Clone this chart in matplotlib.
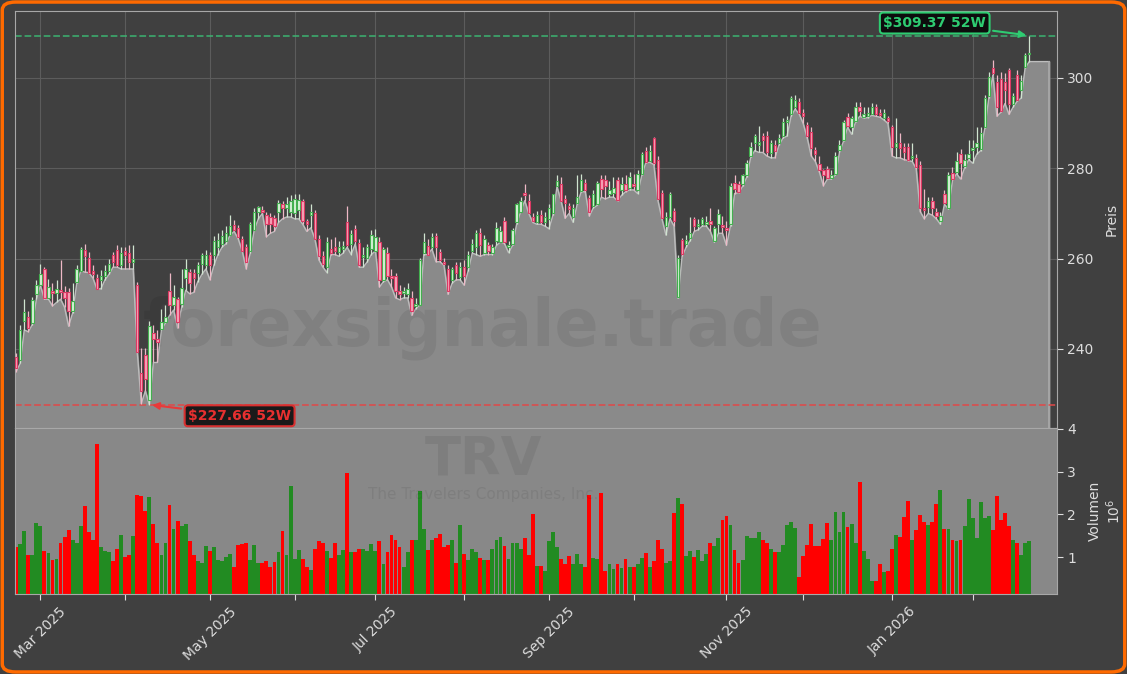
import numpy as np
import pandas as pd
import matplotlib
matplotlib.use('Agg')
import matplotlib.pyplot as plt
from matplotlib.patches import FancyBboxPatch

# TRV daily candles, 21 Feb 2025 .. 23 Feb 2026
start_date = '2025-02-21'
market_holidays = ['2025-04-18', '2025-05-26', '2025-06-19', '2025-07-04', '2025-09-01',
                   '2025-11-27', '2025-12-25', '2026-01-01', '2026-01-19', '2026-02-16']

open_ = [238.2, 237.5, 246.2, 247.0, 245.8, 252.1, 254.1, 257.7, 251.3, 252.9,
         252.3, 253.0, 252.5, 252.5, 248.5, 254.9, 257.3, 262.0, 260.1, 257.3,
         255.7, 255.3, 256.1, 257.3, 260.9, 262.0, 258.5, 261.7, 261.2, 259.3,
         254.1, 234.6, 238.6, 228.6, 243.5, 242.2, 244.4, 246.0, 252.9, 249.7,
         251.0, 250.0, 255.7, 257.0, 256.9, 256.9, 258.7, 258.5, 260.9, 260.9,
         262.5, 263.3, 264.0, 265.2, 267.4, 266.8, 264.4, 262.5, 261.7, 266.4,
         270.4, 270.8, 269.6, 269.2, 269.0, 270.4, 272.0, 271.2, 270.4, 270.0,
         270.8, 272.8, 268.4, 269.6, 270.0, 264.4, 260.5, 258.1, 262.2, 262.5,
         261.5, 262.1, 268.0, 263.3, 266.6, 263.5, 260.3, 260.1, 262.1, 261.7,
         263.6, 255.3, 261.3, 256.1, 256.1, 252.9, 252.3, 252.1, 251.3, 249.5,
         249.7, 261.3, 262.7, 262.5, 265.0, 261.5, 259.3, 257.8, 255.3, 258.5,
         255.9, 258.1, 258.1, 261.7, 262.5, 265.6, 261.3, 262.9, 261.3, 264.0,
         263.7, 268.4, 262.5, 263.3, 268.0, 270.4, 274.6, 272.8, 269.2, 268.2,
         269.6, 268.0, 268.8, 270.0, 276.1, 276.6, 273.2, 271.6, 269.2, 272.2,
         275.0, 276.8, 273.4, 271.6, 272.0, 277.6, 277.4, 274.4, 274.6, 277.4,
         275.2, 276.6, 275.6, 276.4, 275.2, 278.8, 283.8, 281.6, 286.7, 281.8,
         274.5, 267.2, 269.2, 270.6, 251.4, 264.2, 263.2, 264.6, 268.8, 267.2,
         267.6, 267.6, 268.4, 264.0, 267.6, 267.4, 266.8, 267.6, 276.8, 276.4,
         276.4, 278.4, 282.7, 285.5, 285.1, 287.1, 287.1, 283.3, 285.1, 285.5,
         287.1, 290.3, 292.0, 293.5, 294.7, 292.3, 289.5, 288.0, 284.0, 280.9,
         279.5, 279.9, 277.8, 278.8, 284.1, 286.3, 291.3, 289.1, 290.4, 293.5,
         291.3, 291.5, 291.9, 293.5, 292.3, 291.1, 291.1, 289.1, 284.7, 285.5,
         284.7, 284.7, 282.3, 282.3, 280.7, 271.2, 271.4, 272.8, 270.2, 268.4,
         274.2, 271.2, 278.9, 279.2, 283.1, 280.6, 282.3, 284.1, 284.7, 284.3,
         289.1, 295.9, 302.2, 299.0, 299.8, 299.0, 301.8, 294.3, 300.6, 297.4,
         302.5, 305.2]
high = [239.0, 245.4, 251.0, 248.5, 251.5, 255.3, 258.9, 258.2, 255.5, 254.5,
        255.3, 259.7, 254.0, 253.5, 254.5, 258.5, 262.5, 263.3, 261.5, 258.5,
        256.5, 257.5, 258.5, 260.0, 261.5, 262.9, 262.5, 262.5, 262.9, 262.9,
        254.9, 240.2, 240.2, 246.2, 245.4, 244.2, 248.9, 249.7, 256.9, 254.1,
        251.5, 257.7, 260.0, 257.7, 257.7, 259.3, 261.2, 262.0, 261.5, 265.0,
        265.6, 266.4, 267.2, 269.6, 268.5, 267.5, 265.0, 263.3, 268.2, 271.2,
        271.6, 271.6, 270.4, 270.0, 269.6, 273.0, 272.8, 273.6, 274.0, 274.4,
        274.4, 273.2, 268.8, 272.0, 270.8, 265.2, 261.7, 264.8, 264.4, 264.8,
        264.0, 264.0, 271.6, 266.4, 267.5, 264.4, 262.5, 263.3, 266.4, 266.6,
        264.8, 262.5, 262.5, 257.7, 256.9, 254.1, 253.7, 254.5, 252.9, 251.3,
        260.1, 265.6, 264.4, 265.6, 265.6, 262.1, 260.1, 258.5, 258.1, 259.3,
        259.3, 259.7, 261.7, 264.4, 266.4, 266.8, 265.2, 263.6, 263.3, 268.0,
        267.2, 269.2, 264.0, 266.8, 272.4, 273.6, 276.6, 274.4, 270.0, 270.6,
        270.8, 270.4, 272.0, 274.4, 278.4, 278.0, 274.0, 272.4, 272.0, 278.4,
        278.8, 277.6, 274.0, 275.2, 277.2, 278.4, 278.4, 277.2, 278.0, 278.0,
        278.0, 278.6, 279.2, 278.8, 279.5, 283.6, 284.8, 285.2, 286.9, 282.7,
        275.2, 270.4, 274.8, 271.2, 260.9, 264.6, 265.2, 269.2, 269.2, 268.8,
        269.2, 269.4, 271.2, 267.2, 271.0, 269.4, 268.4, 276.8, 278.4, 277.2,
        278.8, 281.8, 285.7, 287.5, 289.3, 287.9, 288.3, 286.3, 286.3, 287.5,
        291.1, 291.5, 295.9, 296.3, 295.5, 293.1, 290.3, 289.1, 284.7, 282.7,
        279.9, 280.6, 279.5, 283.5, 286.3, 290.7, 292.3, 291.5, 294.7, 294.7,
        293.5, 293.5, 294.4, 294.3, 293.1, 293.1, 291.5, 289.5, 291.1, 287.9,
        285.5, 285.5, 285.5, 283.1, 281.5, 275.5, 273.6, 273.6, 271.2, 270.4,
        275.2, 279.2, 280.3, 283.5, 284.3, 283.1, 286.3, 286.3, 289.1, 289.1,
        296.3, 301.4, 303.9, 300.6, 301.4, 301.0, 302.2, 296.7, 301.8, 300.6,
        305.4, 309.37]
low = [235.0, 236.8, 244.2, 243.8, 245.4, 251.0, 254.0, 251.0, 251.0, 249.5,
       250.3, 251.0, 249.2, 245.0, 248.0, 254.5, 257.3, 257.0, 256.9, 255.7,
       253.3, 253.3, 255.3, 256.5, 258.1, 258.1, 257.7, 257.7, 257.7, 257.7,
       239.4, 227.9, 230.7, 227.66, 237.0, 237.0, 244.2, 245.8, 247.4, 248.6,
       244.6, 249.2, 253.0, 252.2, 252.5, 254.9, 256.5, 257.7, 255.3, 258.5,
       260.9, 262.5, 263.3, 265.2, 266.0, 264.4, 261.7, 257.7, 261.2, 266.4,
       268.8, 270.0, 264.8, 265.6, 266.0, 268.0, 268.8, 269.2, 269.2, 268.8,
       268.8, 267.6, 266.0, 266.8, 264.4, 259.7, 258.1, 256.9, 260.9, 260.9,
       260.5, 261.2, 262.5, 260.9, 263.2, 258.1, 258.1, 259.3, 260.9, 261.7,
       253.7, 254.9, 255.3, 253.7, 251.3, 250.9, 251.3, 251.3, 247.4, 248.9,
       249.7, 260.9, 260.9, 262.1, 259.3, 259.3, 258.5, 252.1, 254.5, 255.3,
       255.3, 254.1, 257.3, 261.2, 260.9, 260.5, 260.9, 260.9, 260.9, 262.9,
       263.7, 263.3, 261.3, 262.9, 267.6, 270.4, 272.8, 270.0, 268.0, 267.6,
       267.6, 267.2, 266.6, 269.6, 275.9, 272.8, 268.9, 270.0, 268.0, 272.0,
       274.8, 274.8, 269.4, 271.2, 271.8, 273.6, 273.2, 273.6, 273.6, 272.8,
       274.0, 274.8, 275.2, 275.2, 274.4, 278.4, 281.2, 281.3, 280.8, 272.9,
       268.8, 265.2, 268.8, 267.2, 251.2, 260.5, 262.5, 264.0, 266.0, 266.4,
       267.2, 267.2, 266.0, 263.6, 265.6, 265.6, 262.9, 267.3, 274.4, 274.6,
       276.0, 278.0, 282.4, 283.9, 283.5, 283.5, 282.7, 282.3, 282.3, 285.1,
       286.7, 287.1, 291.5, 293.1, 292.0, 289.9, 286.7, 282.7, 281.5, 279.2,
       276.1, 277.6, 277.6, 278.5, 283.5, 286.0, 289.1, 287.5, 290.3, 291.5,
       291.1, 291.2, 291.7, 291.5, 291.3, 290.7, 289.9, 282.7, 282.3, 282.3,
       281.9, 281.7, 281.5, 279.9, 270.4, 268.8, 270.0, 269.6, 268.8, 267.6,
       272.0, 271.0, 277.3, 278.8, 277.6, 280.1, 281.9, 281.1, 283.1, 283.9,
       288.8, 295.6, 300.6, 291.5, 292.4, 294.3, 291.9, 293.5, 294.8, 295.5,
       302.2, 303.6]
close = [235.8, 244.2, 248.2, 244.6, 250.9, 254.1, 256.5, 251.3, 253.7, 252.3,
         253.3, 252.5, 251.2, 248.5, 250.5, 257.7, 262.1, 260.5, 256.9, 256.5,
         253.3, 256.1, 257.3, 258.9, 259.3, 258.5, 261.2, 260.9, 259.3, 259.9,
         239.4, 230.7, 233.4, 245.0, 242.2, 241.5, 246.0, 247.0, 249.7, 251.5,
         246.0, 253.5, 257.7, 254.5, 255.7, 258.5, 260.7, 260.9, 258.5, 264.0,
         264.2, 265.0, 265.6, 267.2, 266.4, 264.8, 261.7, 259.3, 267.6, 270.4,
         271.4, 270.4, 267.6, 267.6, 267.2, 272.4, 271.2, 272.0, 272.8, 273.2,
         273.0, 268.4, 267.6, 270.4, 264.4, 260.5, 258.9, 263.7, 261.2, 261.7,
         262.5, 262.7, 262.9, 265.4, 263.8, 258.5, 260.9, 262.5, 265.2, 264.8,
         255.3, 262.1, 256.1, 255.7, 252.9, 252.1, 252.9, 253.3, 248.5, 250.0,
         259.7, 263.7, 260.9, 264.7, 262.6, 259.7, 258.9, 252.9, 257.7, 256.9,
         258.1, 256.1, 260.9, 263.3, 265.6, 262.9, 264.4, 261.7, 262.5, 266.8,
         266.0, 263.7, 262.9, 266.4, 272.0, 272.8, 274.0, 270.0, 268.4, 269.6,
         268.0, 269.2, 271.2, 274.2, 277.2, 272.8, 272.2, 271.0, 271.2, 273.6,
         277.4, 275.2, 270.4, 274.4, 276.8, 275.4, 276.0, 275.2, 275.6, 273.0,
         276.4, 275.2, 278.0, 276.0, 278.8, 283.1, 281.4, 283.9, 281.2, 273.2,
         269.0, 269.2, 274.4, 268.4, 260.2, 261.0, 264.2, 265.6, 267.2, 267.6,
         268.8, 268.2, 267.6, 266.8, 269.8, 267.1, 266.4, 276.0, 275.4, 274.8,
         278.4, 281.2, 284.7, 287.1, 285.9, 286.2, 283.5, 285.5, 283.9, 286.7,
         290.3, 290.7, 295.5, 295.1, 292.3, 291.5, 287.1, 284.5, 283.1, 279.7,
         278.4, 277.9, 278.6, 282.7, 285.1, 290.3, 289.3, 291.1, 293.6, 292.7,
         292.0, 292.3, 293.6, 292.0, 291.8, 292.3, 290.4, 284.7, 285.5, 284.5,
         283.5, 281.9, 282.7, 280.3, 271.2, 270.8, 272.8, 271.2, 269.5, 269.4,
         272.4, 278.5, 277.6, 281.5, 281.1, 281.9, 283.1, 284.5, 285.5, 287.9,
         295.5, 300.2, 301.0, 293.5, 292.7, 297.4, 294.3, 296.0, 295.1, 299.4,
         305.0, 305.6]
# volume in millions of shares
volume = [1.23, 1.30, 1.62, 1.06, 1.06, 1.79, 1.73, 1.14, 1.10, 0.93,
          0.95, 1.34, 1.48, 1.64, 1.41, 1.33, 1.73, 2.20, 1.60, 1.41,
          3.64, 1.23, 1.14, 1.12, 0.91, 1.18, 1.53, 1.00, 1.06, 1.50,
          2.46, 2.42, 2.08, 2.40, 1.77, 1.34, 1.04, 1.33, 2.23, 1.66,
          1.85, 1.72, 1.77, 1.39, 1.06, 0.91, 0.87, 1.26, 1.14, 1.24,
          0.93, 0.91, 1.01, 1.08, 0.76, 1.29, 1.31, 1.33, 0.93, 1.29,
          0.86, 0.86, 0.91, 0.78, 0.88,
          1.12, 1.62, 1.06, 2.67, 0.95, 1.16, 0.95, 0.77, 0.70, 1.20,
          1.37, 1.33, 1.14, 0.98, 1.33, 1.06, 1.16, 2.96, 1.12, 1.12,
          1.20, 1.20, 1.14, 1.30, 1.14, 1.37, 0.84, 1.12, 1.51, 1.41,
          1.23, 0.77, 1.12, 1.41, 1.41, 2.55, 1.66, 1.16, 1.40, 1.45,
          1.54, 1.25, 1.29, 1.40, 0.87, 1.75, 1.08, 0.93, 1.19, 1.12,
          0.98, 0.94, 0.93, 1.18, 1.40, 1.48, 1.27, 0.95, 1.34, 1.34,
          1.20, 1.44, 1.06, 2.02,
          0.80, 0.80, 0.67, 1.37, 1.60, 1.23, 0.95, 0.84, 1.03, 0.83,
          1.08, 0.83, 0.78, 2.46, 0.97, 0.95, 2.49, 0.68, 0.84, 0.73,
          0.84, 0.74, 0.95, 0.78, 0.76, 0.84, 0.97, 1.09, 0.77, 0.91,
          1.40, 1.18, 0.87, 0.91, 2.04, 2.38, 2.25, 1.03, 1.14, 1.00,
          1.16, 0.91, 1.08, 1.33, 1.26, 1.45, 1.87, 1.96, 1.75, 1.16,
          0.87, 0.93, 1.50, 1.45, 1.45, 1.58, 1.41, 1.33, 1.18, 1.12,
          1.12, 1.29, 1.75, 1.82, 1.68,
          0.53, 1.02, 1.29, 1.78, 1.26, 1.26, 1.43, 1.81, 1.41, 2.06,
          1.60, 2.06, 1.71, 1.78, 1.33, 2.76, 1.14, 0.95, 0.45, 0.45,
          0.83, 0.66, 0.68, 1.20, 1.52, 1.48, 1.94, 2.32, 1.40, 1.64,
          1.98, 1.82, 1.75, 1.83, 2.25, 2.56, 1.65, 1.65, 1.41, 1.39,
          1.41, 1.73, 2.36, 1.92, 1.45, 2.29, 1.92, 1.96, 1.64, 2.44,
          1.86, 2.04, 1.73, 1.41, 1.33, 1.06, 1.34, 1.39]

ticker = 'TRV'
company = 'The Travelers Companies, Inc.'
watermark = 'forexsignale.trade'

n = len(close)
assert len(open_) == n and len(high) == n and len(low) == n and len(volume) == n

dates = pd.bdate_range(start_date, periods=n, freq='C', holidays=market_holidays)
x = np.arange(n)
o = np.array(open_)
h = np.array(high)
l = np.array(low)
c = np.array(close)
up = c >= o

bg = '#404040'
txt = '#dddddd'

fig = plt.figure(figsize=(11.27, 6.74), dpi=100, facecolor=bg)
ax = fig.add_axes([0.0129, 0.365, 0.925, 0.618], facecolor=bg)
ax2 = fig.add_axes([0.0129, 0.1187, 0.925, 0.2463], facecolor='#888888', sharex=ax)

# grey area under the lows, running on a little past the last candle
x_fill = np.concatenate([[x[0] - 0.5], x, [x[-1] + 5]])
low_fill = np.concatenate([[l[0]], l, [l[-1]]])
ax.fill_between(x_fill, low_fill, 200, color='#8a8a8a', zorder=1)
ax.plot(x_fill, low_fill, color='#bdbdbd', lw=1, zorder=1.5)
ax.plot([x_fill[-1], x_fill[-1]], [200, low_fill[-1]], color='#aaaaaa', lw=1.2, zorder=1.5)

# candles
wick_col = np.where(up, '#d0e4d0', '#eeb8c6')
ax.vlines(x, l, h, colors=wick_col, lw=0.9, zorder=3)
body_bottom = np.minimum(o, c)
body_h = np.maximum(np.abs(c - o), 0.35)
ax.bar(x[up], body_h[up], bottom=body_bottom[up], width=0.6,
       color='#d8f2d8', edgecolor='#43b04f', linewidth=0.8, zorder=4)
ax.bar(x[~up], body_h[~up], bottom=body_bottom[~up], width=0.6,
       color='#f7a3b8', edgecolor='#dc3a64', linewidth=0.8, zorder=4)

# 52 week high / low
i_hi = int(np.argmax(h))
i_lo = int(np.argmin(l))
ax.axhline(h[i_hi], color='#3cb371', ls='--', lw=1.3, alpha=0.85, zorder=2)
ax.axhline(l[i_lo], color='#e04848', ls='--', lw=1.3, alpha=0.85, zorder=2)
ax.annotate(f'${h[i_hi]:.2f} 52W', xy=(x[i_hi], h[i_hi]), xytext=(-68, 9),
            textcoords='offset points', ha='center', va='center',
            color='#2ecc71', fontsize=10, fontweight='bold', zorder=6,
            bbox=dict(boxstyle='round,pad=0.25', fc='#0d0d0d', ec='#2ecc71', lw=1.5),
            arrowprops=dict(arrowstyle='-|>', color='#2ecc71', lw=1.5))
ax.annotate(f'${l[i_lo]:.2f} 52W', xy=(x[i_lo], l[i_lo]), xytext=(65, -8),
            textcoords='offset points', ha='center', va='center',
            color='#e83030', fontsize=10, fontweight='bold', zorder=6,
            bbox=dict(boxstyle='round,pad=0.25', fc='#1a1a1a', ec='#d83030', lw=1.5),
            arrowprops=dict(arrowstyle='-|>', color='#e83a3a', lw=1.5))

# volume bars
vol_col = np.where(up, '#228b22', '#ff0000')
ax2.bar(x, volume, width=0.95, color=vol_col, zorder=2)

# axes setup
ax.set_xlim(-0.4, n + 5.9)
ax.set_ylim(222.5, 314.7)
ax2.set_ylim(0.14, 4.02)
ax.set_yticks([240, 260, 280, 300])
ax2.set_yticks([1, 2, 3, 4])

month_idx = [i for i in range(1, n) if dates[i].month != dates[i - 1].month]
month_lab = [dates[i].strftime('%b %Y') if dates[i].month % 2 == 1 else '' for i in month_idx]
ax2.set_xticks(month_idx)
ax2.set_xticklabels(month_lab, rotation=45)

ax.grid(True, color='#5c5c5c', lw=0.8)
ax.set_axisbelow(True)

for a in (ax, ax2):
    a.yaxis.tick_right()
    a.yaxis.set_label_position('right')
    a.tick_params(colors=txt, labelsize=10, length=4)
    for s in a.spines.values():
        s.set_color('#a8a8a8')
ax.tick_params(axis='x', bottom=False, labelbottom=False)
ax.set_ylabel('Preis', color=txt, fontsize=10, labelpad=8)
ax2.set_ylabel('Volumen\n$10^6$', color=txt, fontsize=10, labelpad=8)

# watermarks
ax.text(0.4286, 0.513, watermark, transform=fig.transFigure, ha='center', va='center',
        fontsize=47, fontweight='bold', color='black', alpha=0.07, zorder=2)
fig.text(0.4286, 0.318, ticker, ha='center', va='center', fontsize=38,
         fontweight='bold', color='black', alpha=0.07)
fig.text(0.4286, 0.266, company, ha='center', va='center', fontsize=11,
         color='black', alpha=0.07)

fig.patches.append(FancyBboxPatch((0.002, 0.003), 0.996, 0.994,
                                  boxstyle='round,pad=0,rounding_size=0.012',
                                  transform=fig.transFigure, fill=False,
                                  ec='#ff6a00', lw=2.5))

fig.savefig('out.png', dpi=100, facecolor=bg)
